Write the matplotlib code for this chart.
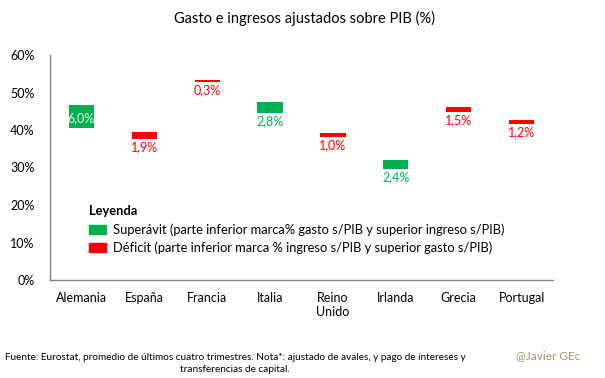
import matplotlib.pyplot as plt
from matplotlib.patches import Patch

# Datos: % sobre PIB (gasto e ingresos ajustados)
paises = ["Alemania", "España", "Francia", "Italia", "Reino\nUnido", "Irlanda", "Grecia", "Portugal"]
parte_inferior = [40.6, 37.5, 52.9, 44.6, 38.2, 29.7, 44.7, 41.6]
parte_superior = [46.6, 39.4, 53.2, 47.4, 39.2, 32.1, 46.2, 42.8]
saldo_etiquetas = ["6,0%", "1,9%", "0,3%", "2,8%", "1,0%", "2,4%", "1,5%", "1,2%"]
superavit = [True, False, False, True, False, True, False, False]

VERDE = "#00B050"
ROJO = "#FF0000"

plt.rcParams['font.family'] = ['Lato', 'DejaVu Sans']

fig = plt.figure(figsize=(6.05, 3.78), dpi=100)
ax = fig.add_axes([50 / 605, 1 - 280 / 378, 503 / 605, 225 / 378])

x = list(range(len(paises)))
alturas = [s - i for s, i in zip(parte_superior, parte_inferior)]
colores = [VERDE if s else ROJO for s in superavit]
ax.bar(x, alturas, bottom=parte_inferior, width=0.4, color=colores)

for xi, inf, sup, lab, s in zip(x, parte_inferior, parte_superior, saldo_etiquetas, superavit):
    col = VERDE if s else ROJO
    if sup - inf > 4:
        ax.text(xi, inf + 2.5, lab, ha="center", va="center", fontsize=9,
                color="#E8F5E0")
    else:
        ax.text(xi, inf - 0.6, lab, ha="center", va="top", fontsize=9, color=col)

ax.set_xlim(-0.5, len(paises) - 0.5)
ax.set_ylim(0, 60)
ax.set_yticks(range(0, 61, 10))
ax.set_yticklabels([f"{v}%" for v in range(0, 61, 10)])
ax.set_xticks(x)
ax.set_xticklabels(paises)
ax.tick_params(length=0, labelsize=9, colors="#000000")
ax.tick_params(axis="y", pad=11)
ax.tick_params(axis="x", pad=9)
for side in ["top", "right"]:
    ax.spines[side].set_visible(False)
for side in ["left", "bottom"]:
    ax.spines[side].set_color("#868686")
    ax.spines[side].set_linewidth(1)

# Leyenda
handles = [Patch(color=VERDE), Patch(color=ROJO)]
textos = ["Superávit (parte inferior marca% gasto s/PIB y superior ingreso s/PIB)",
          "Déficit (parte inferior marca % ingreso s/PIB y superior gasto s/PIB)"]
leg = ax.legend(handles, textos, title="Leyenda", loc="upper left",
                bbox_to_anchor=(0.068, 0.355), frameon=False, fontsize=9.3,
                title_fontproperties={"weight": "bold", "size": 9.3},
                handlelength=1.3, handleheight=0.7, handletextpad=0.5,
                labelspacing=0.45, borderaxespad=0)
leg._legend_box.align = "left"

fig.text(305 / 605, 1 - 18 / 378, "Gasto e ingresos ajustados sobre PIB (%)",
         ha="center", va="center", fontsize=10.5)
fig.text(5 / 605, 1 - 357 / 378,
         "Fuente: Eurostat, promedio de últimos cuatro trimestres. Nota*: ajustado de avales, y pago de intereses y",
         ha="left", va="center", fontsize=7.2)
fig.text(235 / 605, 1 - 370 / 378, "transferencias de capital.",
         ha="center", va="center", fontsize=7.2)
fig.text(548 / 605, 1 - 356 / 378, "@Javier GEc", ha="center", va="center",
         fontsize=8.5, color="#A09A6E")

fig.savefig("out.png", dpi=100)
